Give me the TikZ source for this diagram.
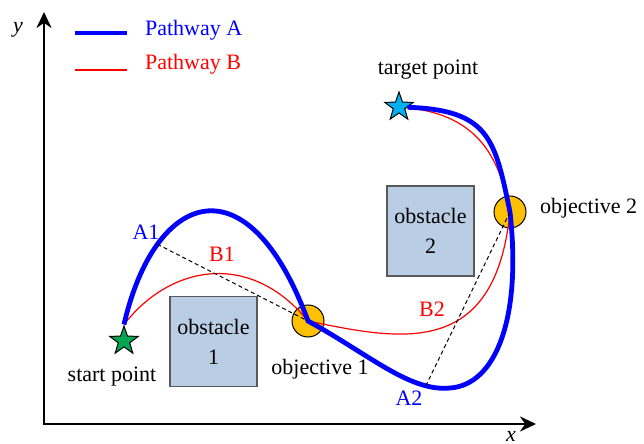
\documentclass[tikz,border=0pt]{standalone}
\usepackage{fontspec}
\setmainfont{Liberation Serif}
\usetikzlibrary{arrows.meta,shapes.geometric,positioning}
\definecolor{obsfill}{HTML}{B9CDE5}
\definecolor{objfill}{HTML}{FFC000}
\definecolor{sttfill}{HTML}{00A651}
\definecolor{tgtfill}{HTML}{00B0F0}
\tikzset{
  obs/.style={rectangle,draw=black!65,fill=obsfill,minimum width=43.5pt,minimum height=45pt,inner sep=0pt,align=center,line width=.6pt,font=\fontsize{11}{15}\selectfont},
  obj/.style={circle,draw=black,fill=objfill,minimum size=16pt,inner sep=0pt,line width=.5pt},
  str/.style={star,star points=5,star point ratio=2.5,minimum size=15pt,inner sep=0pt,draw=black,line width=.5pt},
  pa/.style={draw=blue,line width=2.4pt},
  pb/.style={draw=red,line width=.6pt},
  dsh/.style={draw=black,line width=.5pt,dash pattern=on 2pt off 1.5pt},
  ax/.style={{Stealth[length=8pt,width=7.5pt]}-{Stealth[length=8pt,width=7.5pt]},line width=1.4pt},
  lb/.style={font=\fontsize{11}{13}\selectfont},
}
\begin{document}
\begin{tikzpicture}[x=0.5pt,y=-0.5pt]
\useasboundingbox (0,0) rectangle (644,444);
% ---- axes
\coordinate (o) at (44,424);
\coordinate (ytop) at (44,12);
\coordinate (xend) at (536,424);
\draw[ax] (ytop) -- (o) -- (xend);
\node[lb] (ylab) at (18,30) {\textit{y}};
\node[lb,inner sep=0pt] (xlab) at (511,436) {\textit{x}};
% ---- legend
\coordinate (la0) at (75,33); \coordinate (la1) at (127,33);
\coordinate (lb0) at (75,70); \coordinate (lb1) at (127,70);
\draw[pa] (la0) -- (la1);
\draw[pb] (lb0) -- (lb1);
\node[lb,text=blue,anchor=west] (legA) at (138,30) {Pathway A};
\node[lb,text=red,anchor=west] (legB) at (138,64) {Pathway B};
% ---- obstacles and objectives
\node[obs] (obs1) at (213.5,341.5) {obstacle\\1};
\node[obs] (obs2) at (430.5,231) {obstacle\\2};
\node[str,fill=sttfill] (start) at (124,341) {};
\node[str,fill=tgtfill] (target) at (399,107) {};
\node[obj] (obj1) at (308,321) {};
\node[obj] (obj2) at (510,212) {};
\node[lb] (startlb) at (112,377) {start point};
\node[lb] (targetlb) at (428,70) {target point};
\node[lb] (obj1lb) at (320,369) {objective 1};
\node[lb,anchor=west] (obj2lb) at (533,208) {objective 2};
% ---- pathway B
\draw[pb] (start.north) .. controls (170,265) and (250,250) .. (obj1.center)
  .. controls (400,340) and (495,360) .. (obj2.center)
  .. controls (500,160) and (480,115) .. (target);
% ---- pathway A
\coordinate (amin) at (450,388);
\draw[pa] (start.north) .. controls (155,190) and (248,158) .. coordinate[pos=0.25] (a1) (obj1.center)
  .. controls (370,355) and (410,392) .. coordinate[pos=0.8] (a2) (amin)
  .. controls (495,385) and (522,320) .. (obj2.center)
  .. controls (495,140) and (490,110) .. (target);
% ---- distances
\draw[dsh] (a1) -- (obj1.center);
\draw[dsh] (a2) -- (obj2.center);
\node[lb,text=blue] (a1lb) at (146,232) {A1};
\node[lb,text=red] (b1lb) at (222,254) {B1};
\node[lb,text=red] (b2lb) at (432,309) {B2};
\node[lb,text=blue] (a2lb) at (409,398) {A2};
\end{tikzpicture}
\end{document}
